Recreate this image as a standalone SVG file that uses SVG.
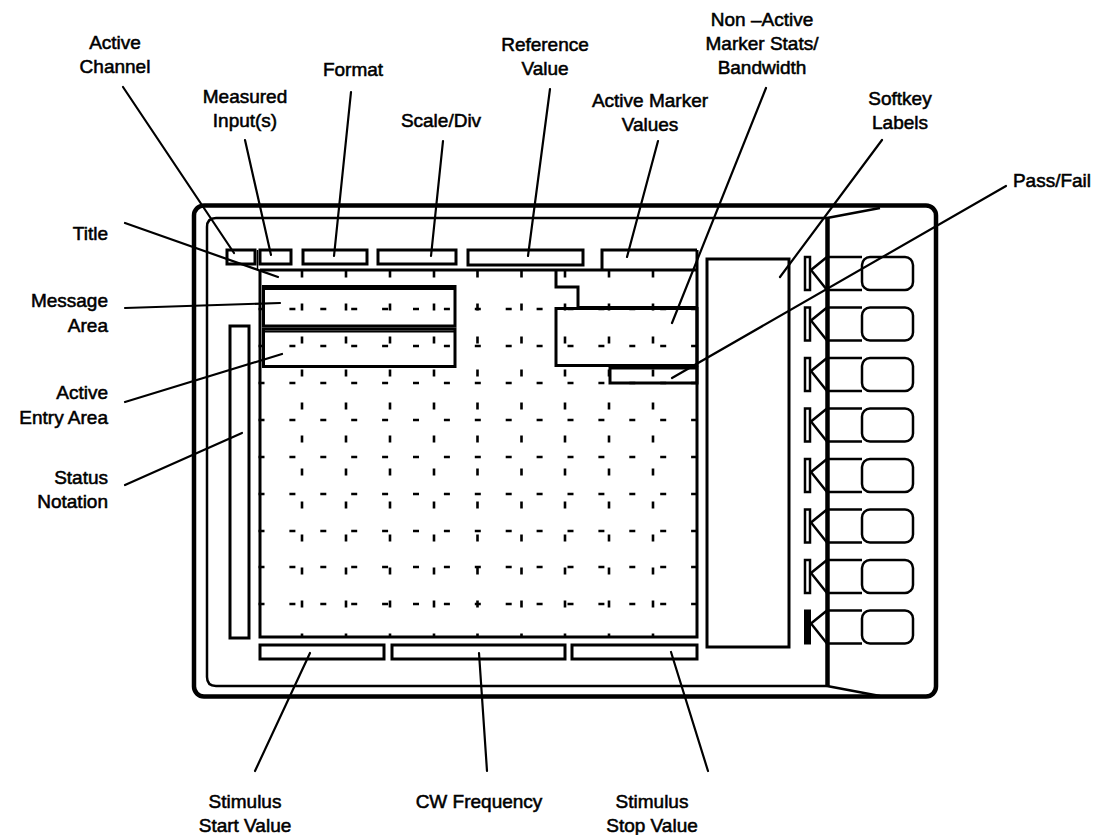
<svg xmlns="http://www.w3.org/2000/svg" width="1099" height="835" viewBox="0 0 1099 835">
<style>
  .lbl { font-family: "Liberation Sans", Arial, sans-serif; font-size: 19px; fill: #000; stroke: #000; stroke-width: 0.55; }
  .c { text-anchor: middle; }
  .e { text-anchor: end; }
  .thick { fill: none; stroke: #000; stroke-width: 4.5; stroke-linejoin: round; }
  .mid { fill: none; stroke: #000; stroke-width: 3; }
  .thin { fill: none; stroke: #000; stroke-width: 2.5; }
  .lead { fill: none; stroke: #000; stroke-width: 2.2; stroke-linecap: round; }
  .hd { stroke: #000; stroke-width: 2.6; stroke-dasharray: 6 24.9; }
  .vd { stroke: #000; stroke-width: 2.6; stroke-dasharray: 7 26; }
  .key { fill: #fff; stroke: #000; stroke-width: 2.5; }
</style>
<rect width="1099" height="835" fill="#fff"/>

<g id="instrument-frame">
  <rect class="thick" x="194" y="205.5" width="742" height="491" rx="10"/>
  <path class="thin" d="M827,218 H216 Q207,218 207,227 V677 Q207,686 216,686 H827"/>
  <path class="thin" d="M827,218 L880,208 M827,686 L880,696"/>
  <line x1="827.5" y1="217" x2="827.5" y2="687" stroke="#000" stroke-width="4.5"/>
</g>

<g id="graticule">
  <g id="grid-dashes">
    <line class="hd" x1="258.5" y1="309" x2="697" y2="309"/>
    <line class="hd" x1="258.5" y1="346" x2="697" y2="346"/>
    <line class="hd" x1="258.5" y1="383" x2="697" y2="383"/>
    <line class="hd" x1="258.5" y1="420" x2="697" y2="420"/>
    <line class="hd" x1="258.5" y1="457" x2="697" y2="457"/>
    <line class="hd" x1="258.5" y1="494" x2="697" y2="494"/>
    <line class="hd" x1="258.5" y1="531" x2="697" y2="531"/>
    <line class="hd" x1="258.5" y1="567" x2="697" y2="567"/>
    <line class="hd" x1="258.5" y1="604" x2="697" y2="604"/>
    <line class="vd" x1="302" y1="270.5" x2="302" y2="637"/>
    <line class="vd" x1="346" y1="270.5" x2="346" y2="637"/>
    <line class="vd" x1="390" y1="270.5" x2="390" y2="637"/>
    <line class="vd" x1="434" y1="270.5" x2="434" y2="637"/>
    <line class="vd" x1="477.5" y1="270.5" x2="477.5" y2="637"/>
    <line class="vd" x1="521.5" y1="270.5" x2="521.5" y2="637"/>
    <line class="vd" x1="565" y1="270.5" x2="565" y2="637"/>
    <line class="vd" x1="609" y1="270.5" x2="609" y2="637"/>
    <line class="vd" x1="653" y1="270.5" x2="653" y2="637"/>
  </g>
  <path class="mid" d="M260,270 H697 M260,270 V637 H697 V250"/>
  <line x1="257.5" y1="250" x2="257.5" y2="270" stroke="#000" stroke-width="1.5"/>
</g>

<g id="active-channel">
  <rect class="mid" x="227" y="250" width="28" height="14"/>
  <text class="lbl c" x="115" y="49">Active</text>
  <text class="lbl c" x="115" y="73">Channel</text>
</g>
<g id="measured-inputs">
  <rect class="mid" x="260" y="250" width="31" height="14"/>
  <text class="lbl c" x="245" y="103">Measured</text>
  <text class="lbl c" x="245" y="127">Input(s)</text>
</g>
<g id="format">
  <rect class="mid" x="303" y="250" width="64" height="14"/>
  <text class="lbl c" x="353" y="76">Format</text>
</g>
<g id="scale-div">
  <rect class="mid" x="378" y="250" width="78" height="14"/>
  <text class="lbl c" x="441" y="127">Scale/Div</text>
</g>
<g id="reference-value">
  <rect class="mid" x="468" y="250" width="115" height="15"/>
  <text class="lbl c" x="545" y="51">Reference</text>
  <text class="lbl c" x="545" y="75">Value</text>
</g>
<g id="active-marker-values">
  <path class="mid" d="M602,270 V250 H697"/>
  <text class="lbl c" x="650" y="107">Active Marker</text>
  <text class="lbl c" x="650" y="131">Values</text>
</g>
<g id="non-active-marker">
  <path class="mid" d="M556,270 V287 H578 V308"/>
  <rect class="mid" x="556" y="308.5" width="141" height="57"/>
  <line x1="578" y1="308" x2="697" y2="308" stroke="#000" stroke-width="4"/>
  <text class="lbl c" x="762" y="26">Non –Active</text>
  <text class="lbl c" x="762" y="50">Marker Stats/</text>
  <text class="lbl c" x="762" y="74">Bandwidth</text>
</g>
<g id="pass-fail">
  <rect class="mid" x="610" y="368" width="87" height="15"/>
  <text class="lbl c" x="1052" y="187">Pass/Fail</text>
</g>
<g id="title">
  <text class="lbl e" x="108" y="240">Title</text>
</g>
<g id="message-area">
  <rect class="mid" x="263.5" y="286.5" width="191.5" height="39.5"/>
  <line x1="263" y1="289" x2="455" y2="289" stroke="#000" stroke-width="2"/>
  <text class="lbl e" x="108" y="307">Message</text>
  <text class="lbl e" x="108" y="332">Area</text>
</g>
<g id="active-entry-area">
  <rect class="mid" x="263.5" y="329" width="191.5" height="37.5"/>
  <line x1="263" y1="331.5" x2="455" y2="331.5" stroke="#000" stroke-width="2"/>
  <text class="lbl e" x="108" y="399">Active</text>
  <text class="lbl e" x="108" y="424">Entry Area</text>
</g>
<g id="status-notation">
  <rect class="mid" x="230" y="326" width="19" height="312"/>
  <text class="lbl e" x="108" y="484">Status</text>
  <text class="lbl e" x="108" y="508">Notation</text>
</g>
<g id="stimulus-start">
  <rect class="mid" x="260" y="645" width="124" height="14"/>
  <text class="lbl c" x="245" y="808">Stimulus</text>
  <text class="lbl c" x="245" y="832">Start Value</text>
</g>
<g id="cw-frequency">
  <rect class="mid" x="392" y="645" width="173" height="14"/>
  <text class="lbl c" x="479" y="808">CW Frequency</text>
</g>
<g id="stimulus-stop">
  <rect class="mid" x="572" y="645" width="125" height="14"/>
  <text class="lbl c" x="652" y="808">Stimulus</text>
  <text class="lbl c" x="652" y="832">Stop Value</text>
</g>
<g id="softkey-labels">
  <rect class="mid" x="707" y="259" width="82" height="388"/>
  <text class="lbl c" x="900" y="105">Softkey</text>
  <text class="lbl c" x="900" y="129">Labels</text>
</g>

<g id="softkeys">
  <g id="softkey-1" transform="translate(0,257)">
    <rect class="key" x="805" y="0" width="5" height="33"/>
    <polyline class="thin" points="827,0 811,13 827,33"/>
    <path class="thin" d="M827,0 H862 M827,33 H862"/>
    <rect class="key" x="862" y="0" width="51" height="33" rx="8"/>
  </g>
  <g id="softkey-2" transform="translate(0,307.5)">
    <rect class="key" x="805" y="0" width="5" height="33"/>
    <polyline class="thin" points="827,0 811,13 827,33"/>
    <path class="thin" d="M827,0 H862 M827,33 H862"/>
    <rect class="key" x="862" y="0" width="51" height="33" rx="8"/>
  </g>
  <g id="softkey-3" transform="translate(0,358)">
    <rect class="key" x="805" y="0" width="5" height="33"/>
    <polyline class="thin" points="827,0 811,13 827,33"/>
    <path class="thin" d="M827,0 H862 M827,33 H862"/>
    <rect class="key" x="862" y="0" width="51" height="33" rx="8"/>
  </g>
  <g id="softkey-4" transform="translate(0,408.5)">
    <rect class="key" x="805" y="0" width="5" height="33"/>
    <polyline class="thin" points="827,0 811,13 827,33"/>
    <path class="thin" d="M827,0 H862 M827,33 H862"/>
    <rect class="key" x="862" y="0" width="51" height="33" rx="8"/>
  </g>
  <g id="softkey-5" transform="translate(0,459)">
    <rect class="key" x="805" y="0" width="5" height="33"/>
    <polyline class="thin" points="827,0 811,13 827,33"/>
    <path class="thin" d="M827,0 H862 M827,33 H862"/>
    <rect class="key" x="862" y="0" width="51" height="33" rx="8"/>
  </g>
  <g id="softkey-6" transform="translate(0,509.5)">
    <rect class="key" x="805" y="0" width="5" height="33"/>
    <polyline class="thin" points="827,0 811,13 827,33"/>
    <path class="thin" d="M827,0 H862 M827,33 H862"/>
    <rect class="key" x="862" y="0" width="51" height="33" rx="8"/>
  </g>
  <g id="softkey-7" transform="translate(0,560)">
    <rect class="key" x="805" y="0" width="5" height="33"/>
    <polyline class="thin" points="827,0 811,13 827,33"/>
    <path class="thin" d="M827,0 H862 M827,33 H862"/>
    <rect class="key" x="862" y="0" width="51" height="33" rx="8"/>
  </g>
  <g id="softkey-8" transform="translate(0,610.5)">
    <rect x="805" y="0" width="5" height="33" fill="#000" stroke="#000" stroke-width="2"/>
    <polyline class="thin" points="827,0 811,13 827,33"/>
    <path class="thin" d="M827,0 H862 M827,33 H862"/>
    <rect class="key" x="862" y="0" width="51" height="33" rx="8"/>
  </g>
</g>

<g id="connectors">
  <line class="lead" x1="123" y1="87" x2="234" y2="253"/>
  <line class="lead" x1="245" y1="140" x2="271" y2="255"/>
  <line class="lead" x1="351" y1="92" x2="334" y2="256"/>
  <line class="lead" x1="443" y1="141" x2="431" y2="256"/>
  <line class="lead" x1="550" y1="89" x2="528" y2="256"/>
  <line class="lead" x1="658" y1="141" x2="627" y2="257"/>
  <line class="lead" x1="766" y1="88" x2="672" y2="323"/>
  <line class="lead" x1="882" y1="140" x2="780" y2="277"/>
  <line class="lead" x1="1006" y1="186" x2="672" y2="378"/>
  <line class="lead" x1="125" y1="223" x2="278" y2="277"/>
  <line class="lead" x1="125" y1="308" x2="280" y2="303"/>
  <line class="lead" x1="125" y1="402" x2="282" y2="354"/>
  <line class="lead" x1="125" y1="485" x2="242" y2="433"/>
  <line class="lead" x1="310" y1="653" x2="255" y2="771"/>
  <line class="lead" x1="479" y1="653" x2="487" y2="771"/>
  <line class="lead" x1="671" y1="652" x2="708" y2="771"/>
</g>
</svg>
